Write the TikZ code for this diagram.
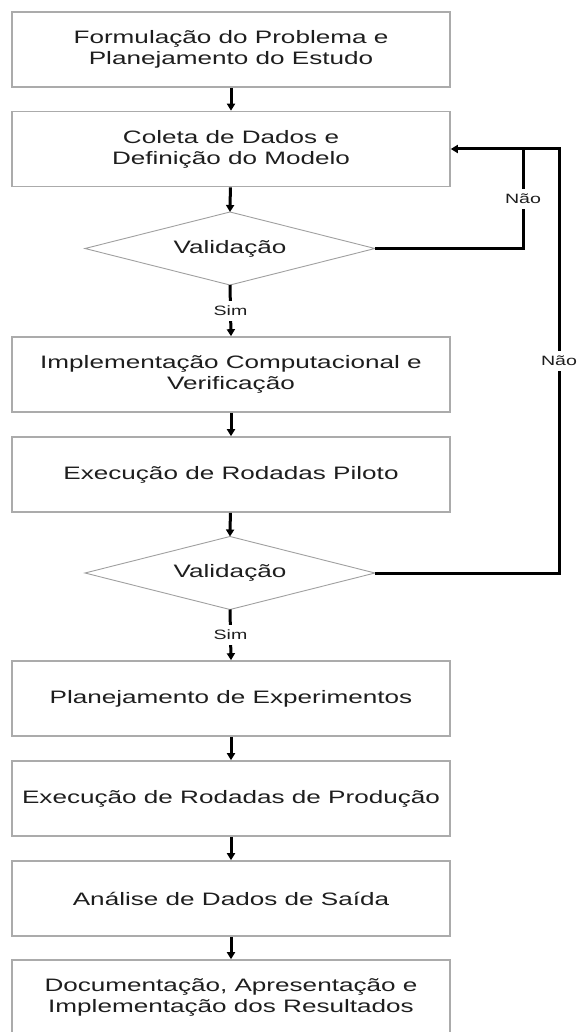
\documentclass[tikz,border=0pt]{standalone}
\usepackage{fontspec}
\setmainfont{Liberation Sans}[FakeStretch=1.45]
\usetikzlibrary{arrows.meta,shapes.geometric}
\definecolor{boxgray}{HTML}{ABABAB}
\definecolor{diagray}{HTML}{A0A0A0}
\definecolor{txtgray}{HTML}{1E1E1E}
\begin{document}
\begin{tikzpicture}[x=1pt,y=-1pt,
  stepbox/.style={draw=boxgray, line width=1.6pt, minimum width=438pt, minimum height=75pt,
    align=center, inner sep=0pt, text=txtgray, font=\fontsize{18}{21}\selectfont},
  decide/.style={minimum width=290pt, minimum height=73pt, outer sep=0pt,
    inner sep=0pt, text=txtgray, font=\fontsize{18}{21}\selectfont},
  rhomb/.style={draw=diagray, line width=0.9pt, line join=miter},
  conn/.style={line width=3pt, -{Triangle[length=7pt,width=8pt]}},
  plain/.style={line width=3pt},
  lab/.style={fill=white, inner xsep=1pt, inner ysep=5pt, text=txtgray, font=\fontsize{13.5}{15}\selectfont}
]
\fill[white] (0,0) rectangle (578,1032);
\clip (0,0) rectangle (578,1032);
\useasboundingbox (0,0) rectangle (578,1032);

\node[stepbox] (b1) at (231,49.5) {Formulação do Problema e\\Planejamento do Estudo};
\node[stepbox] (b2) at (231,149) {Coleta de Dados e\\Definição do Modelo};
\node[decide]  (d1) at (230,248.5) {Validação};
\node[stepbox] (b3) at (231,374.5) {Implementação Computacional e\\Verificação};
\node[stepbox] (b4) at (231,474.5) {Execução de Rodadas Piloto};
\node[decide]  (d2) at (230,573) {Validação};
\node[stepbox] (b5) at (231,698.5) {Planejamento de Experimentos};
\node[stepbox] (b6) at (231,798.5) {Execução de Rodadas de Produção};
\node[stepbox] (b7) at (231,898.5) {Análise de Dados de Saída};
\node[stepbox] (b8) at (231,997.5) {Documentação, Apresentação e\\Implementação dos Resultados};

\draw[rhomb] (d1.west) -- (d1.north) -- (d1.east) -- (d1.south) -- cycle;
\draw[rhomb] (d2.west) -- (d2.north) -- (d2.east) -- (d2.south) -- cycle;

\coordinate (xin) at (523,0);
\coordinate (xout) at (559,0);

\draw[conn] (b1) -- (b2);
\draw[conn] (b2) -- (d1.north);
\draw[conn] (d1.south) -- node[lab]{Sim} (b3.north);
\draw[conn] (b3) -- (b4);
\draw[conn] (b4) -- (d2.north);
\draw[conn] (d2.south) -- node[lab]{Sim} (b5.north);
\draw[conn] (b5) -- (b6);
\draw[conn] (b6) -- (b7);
\draw[conn] (b7) -- (b8);

\draw[plain] (d2.east) -- (d2.east -| xout) -- node[lab]{Não} (b2.east -| xout) -- (b2.east -| xin);
\draw[conn] (d1.east) -- (d1.east -| xin) -- node[lab]{Não} (b2.east -| xin) -- (b2.east);
\end{tikzpicture}
\end{document}
